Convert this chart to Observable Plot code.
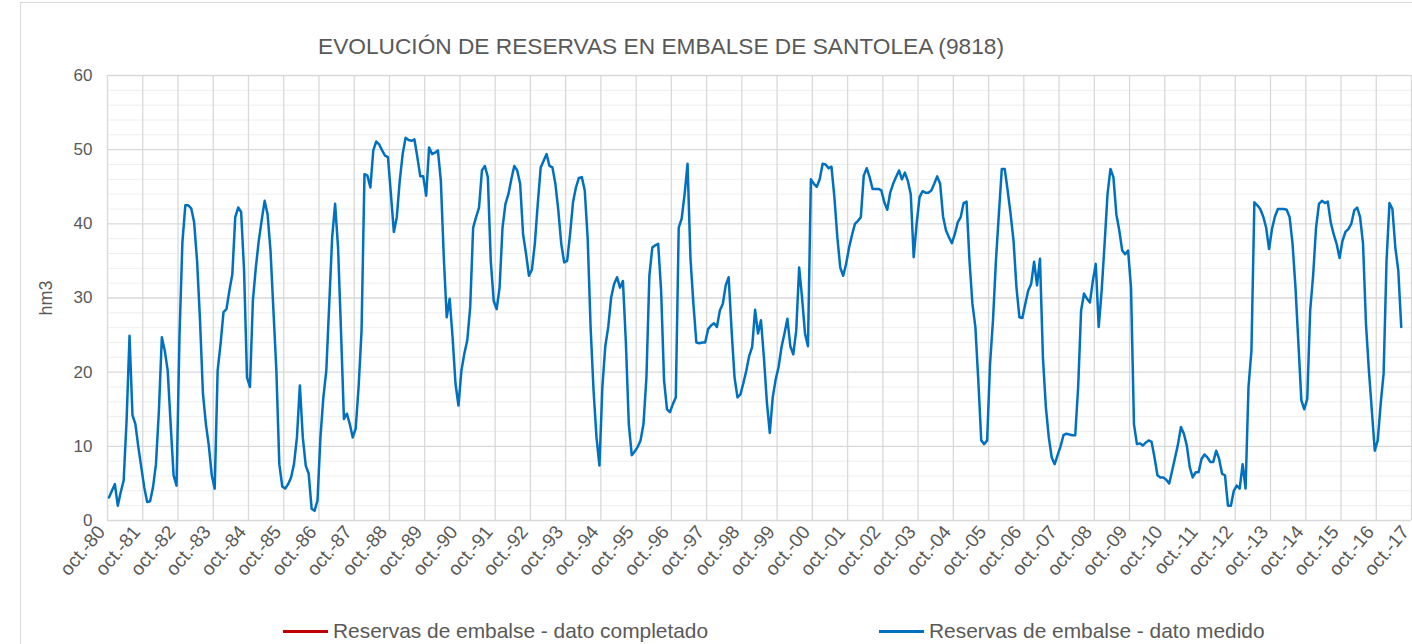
<!DOCTYPE html>
<html>
<head>
<meta charset="utf-8">
<script src="https://cdn.jsdelivr.net/npm/d3@7"></script>
<script src="https://cdn.jsdelivr.net/npm/@observablehq/plot@0.6"></script>
<style>
  html, body { margin: 0; padding: 0; background: #fff; }
  #wrap { position: relative; width: 1412px; height: 644px; overflow: hidden; background: #fff;
          font-family: "Liberation Sans", Arial, sans-serif; color: #595959; }
  #frame { position: absolute; left: 20px; top: 2px; width: 1420px; height: 660px; border: 1px solid #d9d9d9; box-sizing: border-box; }
  #title { position: absolute; top: 33px; left: 0; width: 1322px; text-align: center; font-size: 22.7px; white-space: nowrap; }
  #chart { position: absolute; left: 0; top: 0; }
  .leg { position: absolute; top: 619px; font-size: 20.9px; white-space: nowrap; display: flex; align-items: center; }
  .sw { display: inline-block; width: 45px; height: 3px; margin-right: 5px; }
</style>
</head>
<body>
<div id="wrap">
  <div id="frame"></div>
  <div id="chart"></div>
  <div id="title">EVOLUCIÓN DE RESERVAS EN EMBALSE DE SANTOLEA (9818)</div>
  <div class="leg" style="left:283px"><span class="sw" style="background:#C00000"></span>Reservas de embalse - dato completado</div>
  <div class="leg" style="left:879px"><span class="sw" style="background:#0070C0"></span>Reservas de embalse - dato medido</div>
</div>
<script>
// Monthly reserves (hm3), starting oct-80, hydrological years Oct–Sep
const y80 = [3.1, 4.0, 4.9, 2.0, 3.8, 5.4, 13.5, 24.9, 14.2, 13.0, 9.9, 7.2];
const y81 = [4.5, 2.5, 2.6, 4.5, 7.6, 14.8, 24.7, 22.9, 20.2, 13.0, 6.1, 4.7];
const y82 = [24.7, 37.5, 42.5, 42.5, 42.1, 40.2, 35.0, 27.0, 17.1, 13.0, 10.1, 6.1];
const y83 = [4.3, 20.2, 23.8, 28.1, 28.5, 31.0, 33.2, 40.9, 42.2, 41.6, 33.7, 19.3];
const y84 = [18.0, 29.6, 34.1, 37.7, 40.5, 43.1, 41.3, 36.4, 28.3, 20.2, 7.6, 4.6];
const y85 = [4.3, 4.9, 5.8, 7.6, 11.2, 18.2, 11.2, 7.4, 6.3, 1.6, 1.3, 2.7];
const y86 = [11.2, 16.6, 20.2, 29.2, 38.2, 42.7, 36.8, 25.6, 13.7, 14.4, 13.0, 11.2];
const y87 = [12.4, 18.0, 25.6, 46.7, 46.5, 44.9, 49.9, 51.1, 50.7, 49.9, 49.2, 49.0];
const y88 = [44.0, 38.9, 40.9, 45.8, 49.4, 51.6, 51.3, 51.2, 51.4, 49.0, 46.4, 46.4];
const y89 = [43.8, 50.3, 49.4, 49.6, 49.9, 45.8, 35.5, 27.4, 29.9, 24.7, 18.4, 15.5];
const y90 = [20.2, 22.5, 24.3, 28.8, 39.5, 40.9, 42.2, 47.2, 47.8, 46.3, 35.0, 29.6];
const y91 = [28.5, 31.4, 39.5, 42.7, 44.0, 46.0, 47.8, 47.2, 45.4, 38.6, 36.0, 33.0];
const y92 = [33.8, 37.3, 42.7, 47.6, 48.5, 49.4, 47.8, 47.6, 45.4, 41.8, 37.3, 34.8];
const y93 = [35.0, 38.6, 42.9, 44.9, 46.2, 46.3, 44.5, 38.0, 26.0, 17.5, 11.2, 7.4];
const y94 = [18.0, 23.5, 26.1, 30.1, 31.9, 32.8, 31.4, 32.3, 24.0, 13.0, 8.8, 9.3];
const y95 = [9.9, 10.8, 13.0, 19.3, 33.0, 36.8, 37.1, 37.3, 31.0, 18.9, 15.0, 14.6];
const y96 = [15.7, 16.6, 39.5, 40.7, 44.0, 48.1, 35.3, 29.2, 24.0, 23.9, 24.0, 24.0];
const y97 = [25.8, 26.3, 26.6, 26.1, 28.3, 29.2, 31.7, 32.8, 25.6, 19.3, 16.6, 17.0];
const y98 = [18.5, 20.2, 22.2, 23.4, 28.4, 25.2, 27.0, 22.0, 16.0, 11.8, 16.6, 19.0];
const y99 = [20.7, 23.4, 25.2, 27.2, 23.5, 22.4, 25.6, 34.1, 30.0, 25.2, 23.5, 46.0];
const y00 = [45.4, 45.0, 46.0, 48.1, 48.0, 47.5, 47.7, 43.6, 38.2, 34.1, 33.0, 34.6];
const y01 = [36.8, 38.5, 40.0, 40.4, 40.9, 46.5, 47.5, 46.3, 44.7, 44.7, 44.7, 44.5];
const y02 = [42.9, 41.9, 44.2, 45.4, 46.3, 47.2, 46.0, 46.9, 45.8, 44.0, 35.5, 40.0];
const y03 = [43.6, 44.4, 44.2, 44.2, 44.5, 45.4, 46.4, 45.4, 41.0, 39.1, 38.2, 37.4];
const y04 = [38.6, 40.2, 40.9, 42.8, 43.0, 35.0, 29.2, 26.1, 18.9, 10.8, 10.3, 10.8];
const y05 = [21.1, 27.0, 35.0, 41.3, 47.4, 47.4, 44.5, 41.3, 37.7, 31.4, 27.4, 27.3];
const y06 = [29.2, 31.0, 31.9, 34.9, 31.7, 35.3, 22.0, 15.3, 11.2, 8.5, 7.6, 8.8];
const y07 = [10.0, 11.5, 11.7, 11.6, 11.5, 11.5, 18.0, 28.3, 30.6, 29.9, 29.4, 32.3];
const y08 = [34.6, 26.1, 31.0, 37.3, 44.0, 47.4, 46.3, 41.3, 39.1, 36.4, 35.9, 36.4];
const y09 = [31.4, 13.0, 10.3, 10.4, 10.1, 10.5, 10.8, 10.6, 8.5, 6.1, 5.8, 5.8];
const y10 = [5.5, 5.0, 6.7, 8.5, 10.3, 12.6, 11.7, 10.1, 7.2, 5.8, 6.5, 6.5];
const y11 = [8.3, 8.9, 8.5, 7.9, 7.9, 9.4, 8.3, 6.3, 6.1, 2.0, 2.0, 4.0];
const y12 = [4.7, 4.3, 7.6, 4.3, 18.0, 22.9, 42.9, 42.5, 42.0, 41.0, 39.5, 36.6];
const y13 = [39.3, 41.0, 42.0, 42.0, 42.0, 41.9, 40.9, 37.3, 31.4, 23.8, 16.2, 15.0];
const y14 = [16.4, 28.3, 33.0, 39.5, 42.7, 43.1, 42.8, 43.0, 40.2, 38.6, 37.3, 35.4];
const y15 = [37.7, 38.9, 39.3, 40.0, 41.8, 42.2, 40.9, 37.3, 26.5, 20.2, 14.8, 9.4];
const y16 = [10.8, 15.7, 19.8, 35.0, 42.8, 42.0, 36.8, 33.7, 26.1];

const medido = [].concat(y80,y81,y82,y83,y84,y85,y86,y87,y88,y89,y90,y91,y92,y93,y94,y95,y96,y97,y98,y99,
                         y00,y01,y02,y03,y04,y05,y06,y07,y08,y09,y10,y11,y12,y13,y14,y15,y16);

const tickYears = ["80","81","82","83","84","85","86","87","88","89","90","91","92","93","94","95","96","97","98","99",
                   "00","01","02","03","04","05","06","07","08","09","10","11","12","13","14","15","16","17"];
const yTicks = [0, 10, 20, 30, 40, 50, 60];
const yMinor = [2, 4, 6, 8, 12, 14, 16, 18, 22, 24, 26, 28, 32, 34, 36, 38, 42, 44, 46, 48, 52, 54, 56, 58];

const data = medido.map((v, i) => ({ m: i + 0.5, v }));
const xTicks = tickYears.map((_, k) => k * 12);

const chart = Plot.plot({
  width: 1412,
  height: 620,
  marginLeft: 107,
  marginRight: 1,
  marginTop: 75,
  marginBottom: 100,
  style: { fontFamily: "'Liberation Sans', Arial, sans-serif", color: "#595959", background: "transparent" },
  x: { domain: [0, 444], label: null },
  y: { domain: [0, 60], label: null },
  marks: [
    Plot.ruleY(yMinor, { stroke: "#eeeeee", strokeWidth: 1 }),
    Plot.ruleY(yTicks, { stroke: "#d9d9d9", strokeWidth: 1.3 }),
    Plot.ruleX(xTicks, { stroke: "#d9d9d9", strokeWidth: 1.3 }),
    Plot.axisY(yTicks, { tickSize: 0, tickPadding: 15, fontSize: 17, label: null }),
    Plot.axisX(xTicks, { tickSize: 0, tickPadding: 8, tickRotate: -50, fontSize: 19, label: null, dx: -6,
                         tickFormat: d => "oct.-" + tickYears[d / 12] }),
    Plot.text(["hm3"], { frameAnchor: "left", textAnchor: "middle", dx: 46 - 107, rotate: -90, fontSize: 18, fill: "#595959" }),
    Plot.line(data, { x: "m", y: "v", stroke: "#0070C0", strokeWidth: 2.5 })
  ]
});
document.getElementById("chart").appendChild(chart);
</script>
</body>
</html>
